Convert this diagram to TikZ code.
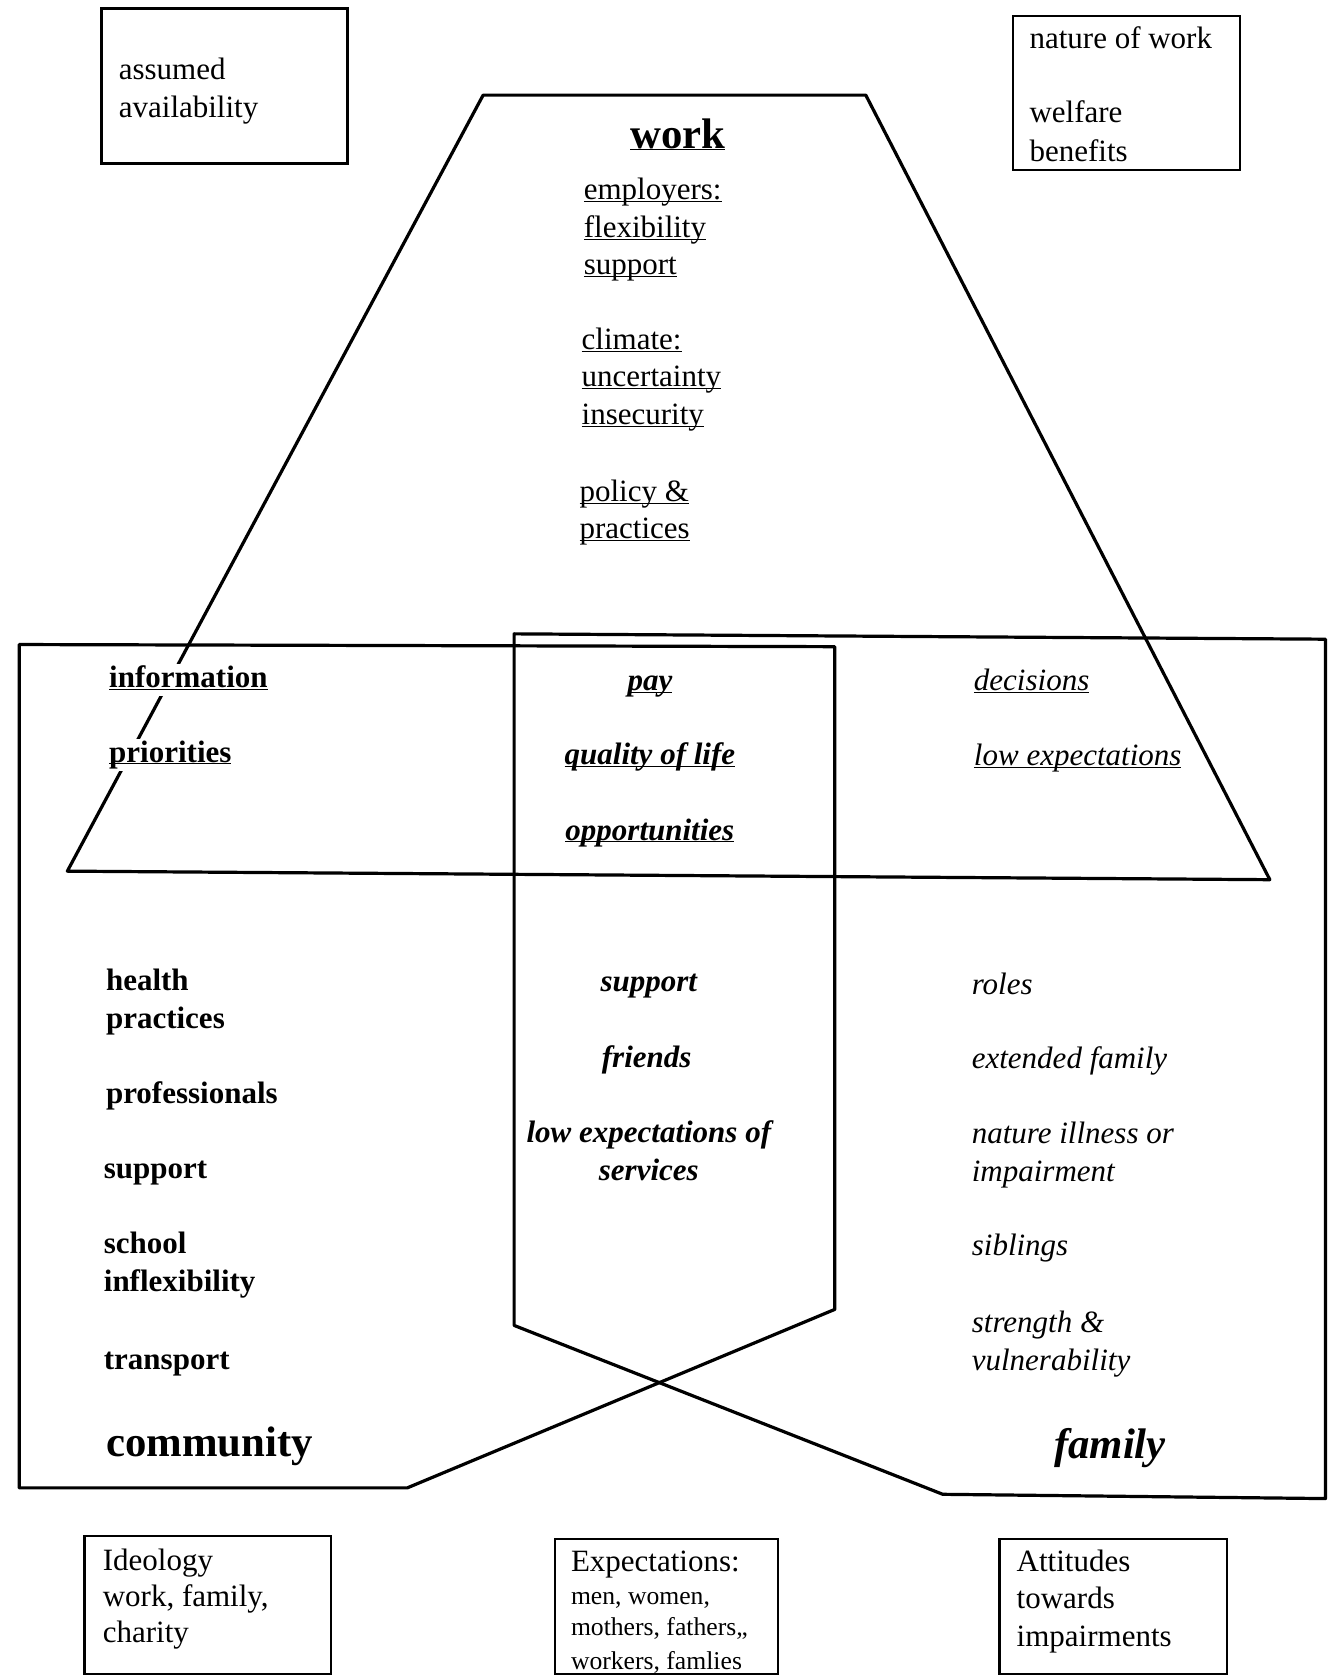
\documentclass[tikz,border=0pt]{standalone}
\usepackage{fontspec}
\setmainfont{Liberation Serif}
\newcommand{\uword}[1]{\underline{\smash{#1}}}
\tikzset{
    bigline/.style={line width=3pt, line join=round},
    boxline/.style={line width=2.1pt},
    txt/.style={anchor=west, inner sep=1pt, yshift=-3pt, text height=20pt, text depth=6pt, font=\fontsize{29}{35}\selectfont},
    smalltxt/.style={txt, text height=17pt, text depth=5pt, font=\fontsize{24}{29}\selectfont},
    comm/.style={txt, font=\fontsize{29}{35}\selectfont\bfseries},
    mid/.style={txt, anchor=center, font=\fontsize{29}{35}\selectfont\bfseries\itshape},
    fam/.style={txt, font=\fontsize{29}{35}\selectfont\itshape},
    headline/.style={txt, text height=27pt, text depth=8pt, font=\fontsize{40}{48}\selectfont\bfseries},
}
\begin{document}
\begin{tikzpicture}
    \useasboundingbox (0pt,0pt) rectangle (1244pt,-1568pt);
    \draw[boxline] (95pt,-8pt) rectangle (325pt,-153pt);
    \node[txt] (assumed) at (110pt,-64pt) {assumed};
    \node[txt] (avail) at (110pt,-100pt) {availability};
    \draw[boxline] (948pt,-15pt) rectangle (1160pt,-159pt);
    \node[txt] (nature) at (962pt,-35pt) {nature of work};
    \node[txt] (welfare) at (962pt,-105pt) {welfare};
    \node[txt] (benefits) at (962pt,-141pt) {benefits};
    \draw[bigline] (452pt,-89pt) -- (810pt,-89pt) -- (1188pt,-823pt) -- (63pt,-815pt) -- cycle;
    \draw[bigline] (18pt,-603pt) -- (781pt,-605pt) -- (781pt,-1225pt) -- (381pt,-1392pt) -- (18pt,-1392pt) -- cycle;
    \draw[bigline] (481pt,-593pt) -- (1240pt,-598pt) -- (1240pt,-1402pt) -- (882pt,-1398pt) -- (481pt,-1240pt) -- cycle;
    \node[headline, anchor=center] (work) at (634pt,-126pt) {\uword{work}};
    \node[txt] (employers) at (545pt,-177pt) {\uword{employers:}};
    \node[txt] (flex) at (545pt,-212pt) {\uword{flexibility}};
    \node[txt] (wsupp) at (545pt,-247pt) {\uword{support}};
    \node[txt] (climate) at (543pt,-317pt) {\uword{climate:}};
    \node[txt] (uncert) at (543pt,-352pt) {\uword{uncertainty}};
    \node[txt] (insec) at (543pt,-387pt) {\uword{insecurity}};
    \node[txt] (policy) at (541pt,-459pt) {\uword{policy \&}};
    \node[txt] (wpract) at (541pt,-494pt) {\uword{practices}};
    \node[comm, fill=white, inner sep=2pt] (info) at (100pt,-633pt) {\uword{information}};
    \node[comm, fill=white, inner sep=2pt] (prio) at (100pt,-703pt) {\uword{priorities}};
    \node[comm] (health) at (98pt,-917pt) {health};
    \node[comm] (hpract) at (98pt,-952pt) {practices};
    \node[comm] (prof) at (98pt,-1022pt) {professionals};
    \node[comm] (csupp) at (96pt,-1093pt) {support};
    \node[comm] (school) at (96pt,-1163pt) {school};
    \node[comm] (inflex) at (96pt,-1198pt) {inflexibility};
    \node[comm] (transp) at (96pt,-1271pt) {transport};
    \node[headline] (community) at (98pt,-1350pt) {community};
    \node[mid] (pay) at (608pt,-636pt) {\uword{pay}};
    \node[mid] (qol) at (608pt,-705pt) {\uword{quality of life}};
    \node[mid] (opp) at (608pt,-776pt) {\uword{opportunities}};
    \node[mid] (msupp) at (607pt,-918pt) {support};
    \node[mid] (friends) at (605pt,-989pt) {friends};
    \node[mid] (lowexp) at (607pt,-1059pt) {low expectations of};
    \node[mid] (services) at (607pt,-1094pt) {services};
    \node[fam] (decisions) at (910pt,-636pt) {\uword{decisions}};
    \node[fam] (lowexpect) at (910pt,-706pt) {\uword{low expectations}};
    \node[fam] (roles) at (908pt,-920pt) {roles};
    \node[fam] (extended) at (908pt,-990pt) {extended family};
    \node[fam] (natill) at (908pt,-1060pt) {nature illness or};
    \node[fam] (impair) at (908pt,-1095pt) {impairment};
    \node[fam] (siblings) at (908pt,-1165pt) {siblings};
    \node[fam] (strength) at (908pt,-1237pt) {strength \&};
    \node[fam] (vulner) at (908pt,-1272pt) {vulnerability};
    \node[headline, font=\fontsize{40}{48}\selectfont\bfseries\itshape] (family) at (985pt,-1352pt) {family};
    \draw[boxline] (79pt,-1437pt) rectangle (310pt,-1566pt);
    \node[txt] (ideology) at (95pt,-1459pt) {Ideology};
    \node[txt] (iwork) at (95pt,-1493pt) {work, family,};
    \node[txt] (charity) at (95pt,-1527pt) {charity};
    \draw[boxline] (519pt,-1440pt) rectangle (728pt,-1566pt);
    \node[txt] (expect) at (533pt,-1460pt) {Expectations:};
    \node[smalltxt] (men) at (533pt,-1492pt) {men, women,};
    \node[smalltxt] (mothers) at (533pt,-1521pt) {mothers, fathers,,};
    \node[smalltxt] (workers) at (533pt,-1553pt) {workers, famlies};
    \draw[boxline] (935pt,-1440pt) rectangle (1148pt,-1566pt);
    \node[txt] (attitudes) at (950pt,-1460pt) {Attitudes};
    \node[txt] (towards) at (950pt,-1495pt) {towards};
    \node[txt] (impairs) at (950pt,-1530pt) {impairments};
\end{tikzpicture}
\end{document}
